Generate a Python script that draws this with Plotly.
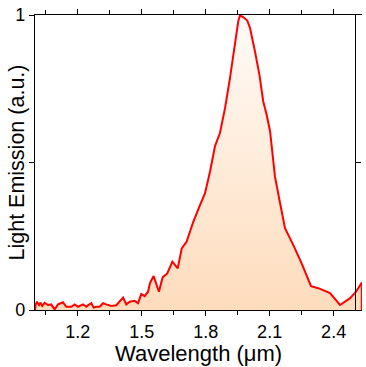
import plotly.graph_objects as go

wavelength = [1.000, 1.003, 1.009, 1.019, 1.025, 1.034, 1.045, 1.061, 1.076, 1.092,
              1.108, 1.131, 1.147, 1.170, 1.186, 1.202, 1.225, 1.241, 1.248, 1.264,
              1.275, 1.287, 1.303, 1.319, 1.334, 1.358, 1.381, 1.397, 1.413, 1.428,
              1.444, 1.467, 1.483, 1.498, 1.514, 1.530, 1.539, 1.556, 1.569, 1.581,
              1.597, 1.600, 1.620, 1.644, 1.669, 1.688, 1.711, 1.742, 1.774, 1.797,
              1.820, 1.844, 1.867, 1.891, 1.914, 1.938, 1.953, 1.961, 1.977, 1.995,
              2.008, 2.031, 2.052, 2.070, 2.086, 2.102, 2.111, 2.125, 2.149, 2.172,
              2.211, 2.250, 2.294, 2.328, 2.383, 2.430, 2.477, 2.505, 2.532, 2.532]
emission = [0.000, 0.017, 0.028, 0.017, 0.025, 0.014, 0.024, 0.017, 0.019, 0.002,
            0.019, 0.026, 0.011, 0.011, 0.019, 0.011, 0.019, 0.011, 0.016, 0.023,
            0.008, 0.011, 0.011, 0.023, 0.019, 0.014, 0.016, 0.028, 0.042, 0.019,
            0.028, 0.031, 0.023, 0.054, 0.047, 0.062, 0.091, 0.115, 0.091, 0.062,
            0.107, 0.112, 0.124, 0.164, 0.141, 0.209, 0.232, 0.299, 0.356, 0.396,
            0.468, 0.556, 0.600, 0.685, 0.786, 0.911, 0.979, 0.999, 0.992, 0.981,
            0.956, 0.877, 0.798, 0.707, 0.662, 0.606, 0.542, 0.452, 0.362, 0.277,
            0.220, 0.158, 0.081, 0.074, 0.057, 0.017, 0.040, 0.062, 0.093, 0.000]

x_range = [1.0, 2.533]
right_spine_x = 2.5
y_ticks = [0, 0.5, 1]
y_ticktext = ["0", "", "1"]
x_title = "Wavelength (μm)"
y_title = "Light Emission (a.u.)"

FONT = "Liberation Sans, Arial, sans-serif"

fig = go.Figure()
fig.add_trace(go.Scatter(
    x=wavelength, y=emission, mode="lines",
    line=dict(color="#ff0000", width=2),
    fill="tozeroy",
    fillgradient=dict(type="vertical",
                      colorscale=[[0, "#fedcbc"], [1, "#fffbf8"]]),
    hoverinfo="skip", showlegend=False,
))
# invisible trace to activate the right-hand axis
fig.add_trace(go.Scatter(x=[], y=[], yaxis="y2", showlegend=False))

fig.update_layout(
    width=366, height=367,
    margin=dict(l=35, r=4, t=15, b=57),
    paper_bgcolor="white", plot_bgcolor="white",
    font=dict(family=FONT, color="black"),
    xaxis=dict(
        range=x_range, showgrid=False, zeroline=False, automargin=False,
        showline=True, linecolor="black", linewidth=1.3, mirror="ticks",
        ticks="outside", ticklen=5, tickcolor="black", tickwidth=1.3,
        tick0=1.2, dtick=0.3, tickformat=".1f",
        tickfont=dict(size=18, family=FONT),
        minor=dict(ticks="outside", ticklen=4, tickcolor="black", tickwidth=1.3,
                   tick0=1.05, dtick=0.15),
    ),
    yaxis=dict(
        range=[0, 1], showgrid=False, zeroline=False, automargin=False,
        showline=True, linecolor="black", linewidth=1.3,
        ticks="outside", ticklen=5, tickcolor="black", tickwidth=1.3,
        tickvals=y_ticks, ticktext=y_ticktext,
        tickfont=dict(size=18, family=FONT),
    ),
    yaxis2=dict(
        range=[0, 1], overlaying="y", side="right", anchor="free",
        position=(right_spine_x - x_range[0]) / (x_range[1] - x_range[0]),
        showgrid=False, zeroline=False, automargin=False,
        showline=True, linecolor="black", linewidth=1.3,
        ticks="outside", ticklen=5, tickcolor="black", tickwidth=1.3,
        tickvals=[0.5], showticklabels=False,
    ),
    annotations=[
        dict(text=x_title, xref="paper", yref="paper", x=0.5, y=0,
             xanchor="center", yanchor="middle", yshift=-43, showarrow=False,
             font=dict(size=22, family=FONT)),
        dict(text=y_title, xref="paper", yref="paper", x=0, y=0.5,
             xanchor="center", yanchor="middle", xshift=-19, textangle=-90,
             showarrow=False, font=dict(size=21.5, family=FONT)),
    ],
)

fig.write_html("out.html")
